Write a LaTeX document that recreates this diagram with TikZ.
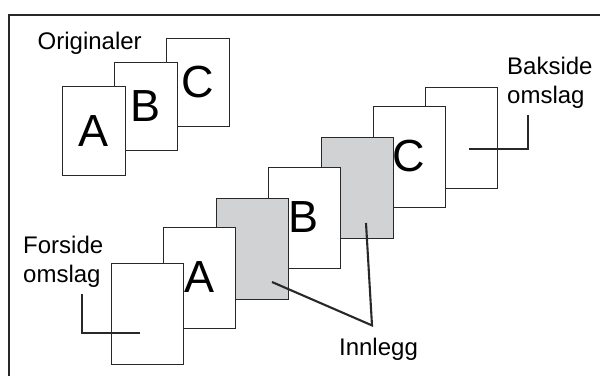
\documentclass[tikz,border=0pt]{standalone}
\usepackage{fontspec}
\setmainfont{Liberation Sans}
\usetikzlibrary{calc}
\definecolor{inngray}{RGB}{209,210,212}
\definecolor{linegray}{RGB}{40,40,40}

\begin{document}
\begin{tikzpicture}[x=1pt, y=-1pt,
    page/.style={draw=linegray, fill=white, line width=1pt, inner sep=0pt,
        minimum width=72pt, minimum height=101pt, font=\fontsize{45}{45}\selectfont},
    orig/.style={page, minimum width=63pt, minimum height=88.5pt},
    lbl/.style={font=\fontsize{24}{29}\selectfont, align=left, inner sep=0pt},
    leader/.style={draw=linegray, line width=2.1pt}]
    \useasboundingbox (0,0) rectangle (600,376);
    \draw[line width=2.2pt, color=linegray] (9,376) -- (9,15) -- (600,15);
    % originaler
    \node[lbl, anchor=base west] (origLbl) at (37.5,49) {Originaler};
    \node[orig] (origC) at (197.5,82.5) {C};
    \node[orig] (origB) at (145.5,106.5) {B};
    \node[orig] (origA) at (93.5,131) {A};
    % ferdig sett, bakerst foerst
    \node[page] (bak) at (461.5,137.5) {};
    \node[page] (sideC) at (409,156.5) {C};
    \node[page, fill=inngray] (inn2) at (357,187.5) {};
    \node[page] (sideB) at (304,217.5) {B};
    \node[page, fill=inngray] (inn1) at (252,248.5) {};
    \node[page] (sideA) at (199.5,277.5) {A};
    \node[page] (fors) at (147.5,313.5) {};
    % etiketter
    \node[lbl, anchor=north west] (forsLbl) at (23,236) {Forside\\omslag};
    \node[lbl, anchor=north west] (bakLbl) at (507,57) {Bakside\\omslag};
    \node[lbl, anchor=base] (innLbl) at (378.5,355) {Innlegg};
    \draw[leader] ($(forsLbl.south west)+(59,6)$) |- ($(fors.center)+(-7.5,19.5)$);
    \draw[leader] ($(bakLbl.south west)+(21,6)$) |- ($(bak.center)+(7.5,11.5)$);
    \draw[leader] ($(inn1.center)+(20,33.5)$) -- ($(innLbl.north)+(-6.5,-12)$)
        -- ($(inn2.center)+(9,35.5)$);
\end{tikzpicture}
\end{document}
